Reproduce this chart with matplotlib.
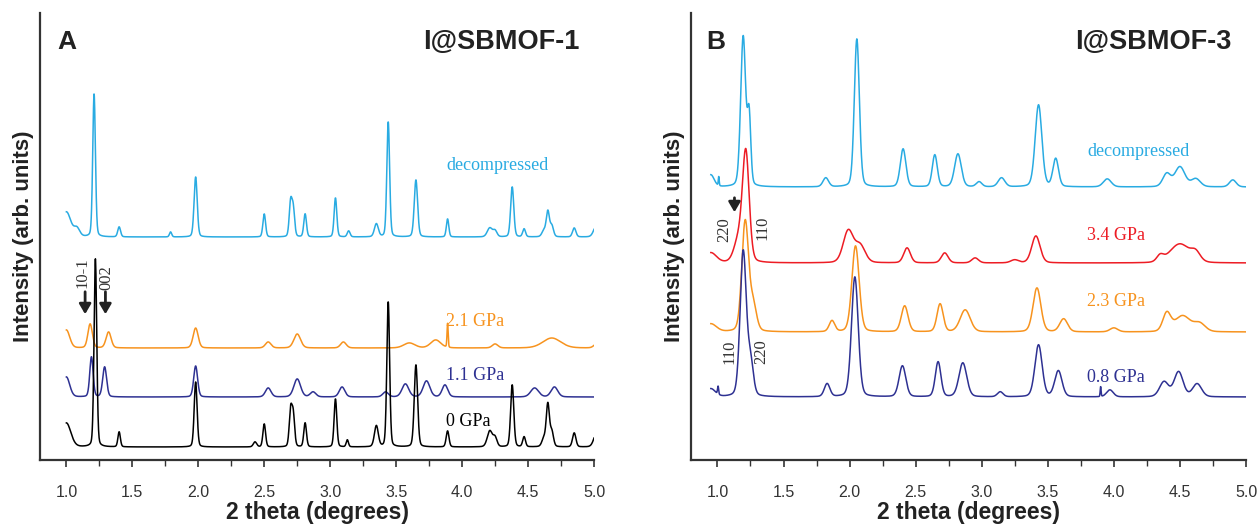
import numpy as np
import matplotlib
matplotlib.use("Agg")
import matplotlib.pyplot as plt
from matplotlib.ticker import MultipleLocator

# ---------------- data (peak lists) ----------------
# each curve: baseline offset, peak positions (2theta), heights, FWHM
# Panel A : I@SBMOF-1
A_labels = ["decompressed", "2.1 GPa", "1.1 GPa", "0 GPa"]
A_colors = ["#29ABE2", "#F7931E", "#2E3192", "#000000"]
A_offsets = [223, 112, 63, 13]
A_pos = [
    [1.00, 1.08, 1.21, 1.40, 1.79, 1.98, 2.50, 2.70, 2.72, 2.81, 3.04, 3.14, 3.35, 3.44, 3.65, 3.89,
     4.21, 4.25, 4.38, 4.47, 4.62, 4.65, 4.68, 4.85, 5.02],
    [1.00, 1.18, 1.32, 1.98, 2.53, 2.75, 3.10, 3.60, 3.80, 3.89, 4.25, 4.68, 5.02],
    [1.00, 1.19, 1.29, 1.98, 2.53, 2.75, 2.87, 3.09, 3.42, 3.57, 3.73, 3.87, 4.55, 4.70],
    [1.00, 1.22, 1.40, 1.98, 2.43, 2.50, 2.70, 2.72, 2.81, 3.04, 3.13, 3.35, 3.44, 3.65, 3.89,
     4.21, 4.25, 4.38, 4.47, 4.62, 4.65, 4.68, 4.85, 5.02],
]
A_height = [
    [25, 8, 143, 10, 5, 60, 23, 34, 27, 23, 39, 6, 13, 115, 57, 18, 9, 6, 50, 8, 6, 25, 11, 9, 12],
    [18, 24, 16, 20, 6, 14, 6, 5, 8, 24, 4, 10, 4],
    [20, 40, 30, 31, 9, 18, 5, 10, 5, 13, 16, 12, 9, 10],
    [24, 188, 15, 65, 5, 23, 36, 31, 24, 48, 7, 21, 145, 82, 16, 16, 9, 62, 10, 8, 42, 15, 14, 14],
]
A_fwhm = [
    [0.08, 0.05, 0.024, 0.025, 0.02, 0.028, 0.024, 0.025, 0.025, 0.024, 0.024, 0.025, 0.035, 0.025, 0.03, 0.022,
     0.045, 0.035, 0.028, 0.025, 0.035, 0.028, 0.03, 0.03, 0.05],
    [0.06, 0.04, 0.045, 0.045, 0.05, 0.06, 0.05, 0.10, 0.09, 0.010, 0.05, 0.16, 0.05],
    [0.06, 0.03, 0.035, 0.035, 0.05, 0.06, 0.05, 0.05, 0.05, 0.06, 0.06, 0.05, 0.07, 0.06],
    [0.08, 0.024, 0.022, 0.026, 0.03, 0.024, 0.025, 0.025, 0.024, 0.024, 0.02, 0.035, 0.025, 0.03, 0.025,
     0.045, 0.035, 0.028, 0.025, 0.035, 0.028, 0.03, 0.03, 0.05],
]
A_label_y = [295, 139, 85, 38]

# Panel B : I@SBMOF-3
B_labels = ["decompressed", "3.4 GPa", "2.3 GPa", "0.8 GPa"]
B_colors = ["#29ABE2", "#ED1C24", "#F7931E", "#2E3192"]
B_offsets = [273, 197, 128, 63]
B_pos = [
    [0.95, 1.01, 1.195, 1.24, 1.82, 2.055, 2.405, 2.645, 2.82, 2.98, 3.15, 3.43, 3.56, 3.95,
     4.40, 4.50, 4.62, 4.90],
    [0.95, 1.16, 1.215, 1.99, 2.08, 2.435, 2.72, 2.95, 3.25, 3.41, 4.35, 4.50, 4.62],
    [0.95, 1.21, 1.27, 1.867, 2.045, 2.417, 2.685, 2.875, 3.418, 3.62, 4.00, 4.40, 4.52, 4.65],
    [0.95, 1.005, 1.195, 1.25, 1.83, 2.04, 2.40, 2.67, 2.857, 3.14, 3.43, 3.58, 3.90, 3.97,
     4.38, 4.49, 4.63],
]
B_height = [
    [12, 9, 150, 68, 9, 148, 38, 32, 33, 5, 9, 82, 28, 8, 13, 20, 8, 7],
    [10, 22, 108, 32, 17, 15, 10, 5, 3, 27, 6, 19, 8],
    [8, 110, 26, 11, 86, 26, 28, 22, 44, 13, 4, 18, 16, 8],
    [8, 8, 145, 34, 13, 120, 31, 35, 34, 5, 52, 26, 10, 7, 15, 25, 13],
]
B_fwhm = [
    [0.06, 0.008, 0.045, 0.03, 0.05, 0.045, 0.05, 0.045, 0.06, 0.05, 0.06, 0.06, 0.05, 0.07,
     0.07, 0.09, 0.08, 0.06],
    [0.10, 0.08, 0.06, 0.09, 0.09, 0.06, 0.06, 0.06, 0.07, 0.075, 0.06, 0.18, 0.08],
    [0.10, 0.06, 0.06, 0.05, 0.065, 0.06, 0.055, 0.09, 0.07, 0.07, 0.07, 0.07, 0.14, 0.10],
    [0.08, 0.01, 0.055, 0.05, 0.05, 0.06, 0.06, 0.05, 0.07, 0.05, 0.065, 0.065, 0.008, 0.06,
     0.08, 0.08, 0.08],
]
B_label_y = [309, 225, 158, 82]

x_ticks = [1.0, 1.5, 2.0, 2.5, 3.0, 3.5, 4.0, 4.5, 5.0]


def pattern(x, offset, pos, height, fwhm):
    y = np.full_like(x, float(offset))
    for p, h, w in zip(pos, height, fwhm):
        g = np.exp(-4 * np.log(2) * (x - p) ** 2 / w ** 2)
        lo = 1.0 / (1.0 + 4 * (x - p) ** 2 / w ** 2)
        y += h * (0.8 * g + 0.2 * lo)
    return y


plt.rcParams['font.family'] = ['Liberation Sans', 'DejaVu Sans']
SERIF = ['Liberation Serif', 'DejaVu Serif']

fig = plt.figure(figsize=(12.6, 5.24), dpi=100)
axA = fig.add_axes([40 / 1260, 64 / 524, 554 / 1260, 447 / 524])
axB = fig.add_axes([691 / 1260, 64 / 524, 555 / 1260, 447 / 524])


def style(ax):
    ax.set_xlim(0.8, 5.0)
    ax.set_ylim(0, 447)
    for s in ['top', 'right']:
        ax.spines[s].set_visible(False)
    for s in ['left', 'bottom']:
        ax.spines[s].set_color('#333333')
        ax.spines[s].set_linewidth(1.6)
    ax.set_yticks([])
    ax.set_xticks(x_ticks)
    ax.set_xticklabels([f"{t:.1f}" for t in x_ticks])
    ax.xaxis.set_minor_locator(MultipleLocator(0.25))
    ax.tick_params(axis='x', which='major', length=5, width=1.2, color='#333333',
                   labelsize=11.5, labelcolor='#333333', pad=13)
    ax.tick_params(axis='x', which='minor', length=4, width=1.0, color='#333333')
    ax.set_xlabel("2 theta (degrees)", fontsize=16.5, fontweight='bold', color='#222222', labelpad=1)
    ax.set_ylabel("Intensity (arb. units)", fontsize=16, fontweight='bold', color='#222222', labelpad=4)


xa = np.linspace(1.0, 5.0, 3000)
for lab, c, off, pos, hh, ww, ly in zip(A_labels, A_colors, A_offsets, A_pos, A_height, A_fwhm, A_label_y):
    axA.plot(xa, pattern(xa, off, pos, hh, ww), color=c, lw=1.1)
    axA.text(3.88, ly, lab, color=c, fontsize=13, family=SERIF, va='center', ha='left')

xb = np.linspace(0.95, 5.0, 3000)
for lab, c, off, pos, hh, ww, ly in zip(B_labels, B_colors, B_offsets, B_pos, B_height, B_fwhm, B_label_y):
    axB.plot(xb, pattern(xb, off, pos, hh, ww), color=c, lw=1.1)
    axB.text(3.80, ly, lab, color=c, fontsize=13, family=SERIF, va='center', ha='left')

style(axA)
style(axB)

axA.text(1.0, 418, "A", fontsize=19, fontweight='bold', ha='center', va='center', color='#222222')
axA.text(4.89, 418, "I@SBMOF-1", fontsize=19.5, fontweight='bold', ha='right', va='center', color='#222222')
axB.text(0.99, 418, "B", fontsize=19, fontweight='bold', ha='center', va='center', color='#222222')
axB.text(4.89, 418, "I@SBMOF-3", fontsize=19.5, fontweight='bold', ha='right', va='center', color='#222222')

ann_kw = dict(fontsize=12, family=SERIF, rotation=90, ha='center', va='center', color='#333333')
arrow_kw = dict(arrowstyle='-|>,head_width=0.35,head_length=0.6', color='#222222', lw=2)

axA.text(1.124, 187, "10-1", **ann_kw)
axA.text(1.30, 182, "002", **ann_kw)
axA.annotate("", xy=(1.142, 143), xytext=(1.142, 171), arrowprops=arrow_kw)
axA.annotate("", xy=(1.296, 143), xytext=(1.296, 171), arrowprops=arrow_kw)

axB.text(1.053, 230, "220", **ann_kw)
axB.text(1.342, 232, "110", **ann_kw)
axB.text(1.09, 108, "110", **ann_kw)
axB.text(1.33, 108, "220", **ann_kw)
axB.annotate("", xy=(1.129, 245), xytext=(1.129, 265), arrowprops=arrow_kw)

fig.savefig("out.png", dpi=100)
